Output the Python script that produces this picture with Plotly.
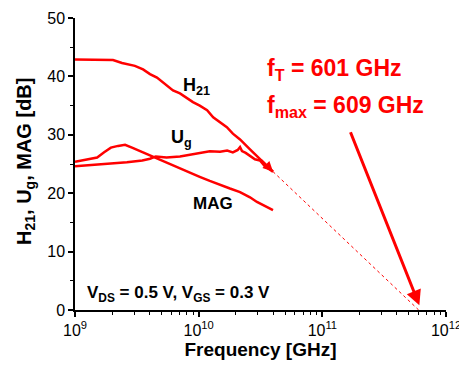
import plotly.graph_objects as go
import numpy as np

# H21 data
h21_f = [1e9, 1.45e9, 2.03e9, 2.40e9, 3.05e9, 3.55e9, 4.04e9, 4.60e9, 5.14e9, 5.65e9, 6.20e9,
         7.06e9, 8.04e9, 8.99e9, 1.02e10, 1.17e10, 1.31e10, 1.49e10, 1.69e10, 1.89e10, 2.16e10,
         2.60e10, 2.96e10, 3.31e10, 3.63e10, 3.99e10]
h21_db = [42.9, 42.8, 42.8, 42.3, 41.8, 41.2, 40.4, 39.8, 39.0, 38.2, 37.6,
          37.1, 36.3, 35.6, 35.0, 34.2, 33.0, 32.2, 31.3, 30.2, 29.2,
          27.5, 26.4, 25.3, 24.6, 23.7]

# MAG data
mag_f = [1e9, 1.32e9, 1.51e9, 1.72e9, 1.95e9, 2.23e9, 2.54e9, 2.89e9, 3.35e9, 4.04e9, 4.86e9,
         5.86e9, 7.06e9, 8.51e9, 1.02e10, 1.23e10, 1.49e10, 1.79e10, 2.16e10, 2.60e10, 2.96e10,
         3.44e10, 3.99e10]
mag_db = [25.4, 25.8, 26.1, 27.0, 27.8, 28.1, 28.3, 27.8, 27.2, 26.5, 25.8,
          25.0, 24.2, 23.5, 22.8, 22.1, 21.4, 20.8, 20.2, 19.3, 18.5,
          17.8, 17.1]

# Ug data
ug_f = [1e9, 1.6e9, 2.63e9, 3.5e9, 4.04e9, 4.5e9, 5.5e9, 7.06e9, 8.5e9, 1.02e10, 1.23e10,
        1.49e10, 1.7e10, 1.89e10, 2.07e10, 2.16e10, 2.24e10, 2.4e10, 2.6e10, 2.85e10,
        3.13e10, 3.43e10, 3.99e10]
ug_db = [24.6, 24.9, 25.3, 25.6, 25.9, 26.3, 26.1, 26.3, 26.6, 26.9, 27.2,
         27.1, 27.3, 27.0, 27.4, 27.9, 27.2, 26.9, 26.4, 25.8,
         25.6, 24.6, 23.7]

f_T = 601e9
f_max = 609e9

x_tickvals = [1e9, 1e10, 1e11, 1e12]
x_ticktext = ["10<sup>9</sup>", "10<sup>10</sup>", "10<sup>11</sup>", "10<sup>12</sup>"]
x_minor = [m * 10.0 ** d for d in range(9, 12) for m in range(2, 10)]

RED = "#ff0000"
FONT = "Arial, Liberation Sans, sans-serif"

fig = go.Figure()
for f, v in [(h21_f, h21_db), (mag_f, mag_db), (ug_f, ug_db)]:
    fig.add_trace(go.Scatter(x=f, y=v, mode="lines", line=dict(color=RED, width=2.5),
                             showlegend=False, hoverinfo="skip"))

# extrapolation -20 dB/dec
fig.add_trace(go.Scatter(x=[h21_f[-1], f_T], y=[h21_db[-1], 0], mode="lines",
                         line=dict(color=RED, width=1, dash="dot"), showlegend=False))

ann = []
# small arrowhead at H21 end
ann.append(dict(x=np.log10(h21_f[-1]), y=h21_db[-1], ax=np.log10(3.1e10), ay=26.0,
                xref="x", yref="y", axref="x", ayref="y", showarrow=True,
                arrowhead=2, arrowsize=1, arrowwidth=2, arrowcolor=RED, text=""))
# big arrow to fmax
ann.append(dict(x=np.log10(f_max), y=0.8, ax=11.223, ay=30.7,
                xref="x", yref="y", axref="x", ayref="y", showarrow=True,
                arrowhead=2, arrowsize=1, arrowwidth=3, arrowcolor=RED, text=""))

OFF = 8  # page offset of the figure
W, H = 467, 371
L, R, T, B = 67, 29, 10, 69
pw, ph = W - L - R, H - T - B
def px(x): return (x - OFF - L) / pw
def py(y): return (H - B - (y - OFF)) / ph

def lab(text, x, y, size, color="black", xanchor="center", angle=0):
    ann.append(dict(text=text, x=px(x), y=py(y), xref="paper", yref="paper", showarrow=False,
                    xanchor=xanchor, yanchor="middle", textangle=angle,
                    font=dict(family=FONT, size=size, color=color)))

lab("<b>H<sub>21</sub></b>", 181, 86, 18, xanchor="left")
lab("<b>U<sub>g</sub></b>", 169, 138, 18, xanchor="left")
lab("<b>MAG</b>", 213, 203, 17)
lab("<b>V<sub>DS</sub> = 0.5 V, V<sub>GS</sub> = 0.3 V</b>", 85, 294, 17, xanchor="left")
lab("<b>f<sub>T</sub> = 601 GHz</b>", 265, 69, 23, RED, xanchor="left")
lab("<b>f<sub>max</sub> = 609 GHz</b>", 265, 106, 23, RED, xanchor="left")
lab("<b>H<sub>21</sub>, U<sub>g</sub>, MAG [dB]</b>", 25, 162, 20, angle=-90)

fig.update_layout(
    width=W, height=H, margin=dict(l=L, r=R, t=T, b=B, autoexpand=False),
    paper_bgcolor="white", plot_bgcolor="white",
    font=dict(family=FONT, size=15, color="black"),
    annotations=ann,
    xaxis=dict(type="log", range=[9, 12], showgrid=False, zeroline=False, automargin=False,
               showline=True, linecolor="black", linewidth=1.5, ticklabeloverflow="allow",
               ticks="outside", ticklen=5, tickwidth=1.5, tickcolor="black",
               tickmode="array", tickvals=x_tickvals, ticktext=x_ticktext,
               tickfont=dict(size=16),
               minor=dict(ticks="outside", ticklen=3, tickwidth=1, tickcolor="black",
                          tickmode="array", tickvals=x_minor, showgrid=False),
               title=dict(text="<b>Frequency [GHz]</b>", font=dict(size=19), standoff=5)),
    yaxis=dict(range=[0, 50], showgrid=False, zeroline=False, automargin=False,
               showline=True, linecolor="black", linewidth=1.5, ticklabeloverflow="allow",
               ticks="outside", ticklen=5, tickwidth=1.5, tickcolor="black",
               dtick=10, tickfont=dict(size=16),
               minor=dict(ticks="outside", ticklen=3, tickwidth=1, tickcolor="black", dtick=5, showgrid=False)),
)

fig.write_html("out.html")
